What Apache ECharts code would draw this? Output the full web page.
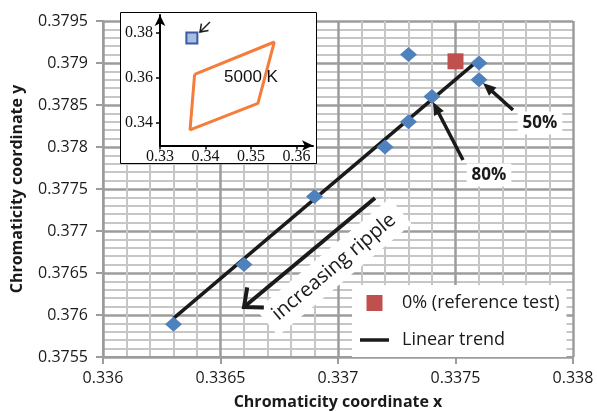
<!DOCTYPE html>
<html><head><meta charset="utf-8">
<script src="https://cdn.jsdelivr.net/npm/echarts@6/dist/echarts.min.js"></script>
<style>html,body{margin:0;padding:0;background:#fff}#c{width:597px;height:412px}</style>
</head><body><div id="c"></div>
<script>
// ---- data ----
const rippleX = [0.3363, 0.3366, 0.3369, 0.3372, 0.3373, 0.3374, 0.3373, 0.3376, 0.3376];
const rippleY = [0.37589, 0.3766, 0.37741, 0.3780, 0.3783, 0.3786, 0.37910, 0.3790, 0.3788];
const refX = [0.3375];
const refY = [0.37902];
const trendX = [0.3363, 0.3376];
const trendY = [0.37596, 0.37904];
const xTickLabels = ['0.336', '0.3365', '0.337', '0.3375', '0.338'];
const yTickLabels = ['0.3755', '0.376', '0.3765', '0.377', '0.3775', '0.378', '0.3785', '0.379', '0.3795'];
// inset: ANSI 5000 K quadrangle and the test point
const quadX = [0.3376, 0.3551, 0.3515, 0.3366, 0.3376];
const quadY = [0.3616, 0.3760, 0.3487, 0.3369, 0.3616];
const insetPtX = [0.3370];
const insetPtY = [0.3778];
const insetXTicks = [0.33, 0.34, 0.35, 0.36];
const insetXTickLabels = ['0.33', '0.34', '0.35', '0.36'];
const insetYTicks = [0.34, 0.36, 0.38];
const insetYTickLabels = ['0.34', '0.36', '0.38'];

const zip = (a, b) => a.map((v, i) => [v, b[i]]);
const pick = (ticks, labels) => v => { const i = ticks.findIndex(t => Math.abs(t - v) < 1e-9); return i >= 0 ? labels[i] : ''; };

const FONT = 'Open Sans';
const MAJOR = '#9c9c9c', MINOR = '#c6c6c6', INK = '#1a1a1a';

function arrowEls(x1, y1, x2, y2, w, L, W, filled, z) {
  const dx = x2 - x1, dy = y2 - y1, len = Math.hypot(dx, dy);
  const ux = dx / len, uy = dy / len, px = -uy, py = ux;
  const els = [];
  if (filled) {
    const bx = x2 - ux * L, by = y2 - uy * L;
    els.push({type: 'line', z, shape: {x1, y1, x2: bx + ux * 2, y2: by + uy * 2}, style: {stroke: INK, lineWidth: w}});
    els.push({type: 'polygon', z, shape: {points: [[x2, y2], [bx + px * W / 2, by + py * W / 2], [bx - px * W / 2, by - py * W / 2]]}, style: {fill: INK}});
  } else {
    els.push({type: 'line', z, shape: {x1, y1, x2, y2}, style: {stroke: INK, lineWidth: w}});
    const bx = x2 - ux * L, by = y2 - uy * L;
    els.push({type: 'polyline', z, shape: {points: [[bx + px * W / 2, by + py * W / 2], [x2, y2], [bx - px * W / 2, by - py * W / 2]]},
      style: {stroke: INK, lineWidth: w, fill: null, lineJoin: 'miter'}});
  }
  return els;
}

const chart = echarts.init(document.getElementById('c'), null, {renderer: 'canvas'});

const graphics = [];
// inset frame
graphics.push({type: 'rect', z: 10, shape: {x: 120.5, y: 12.5, width: 196, height: 151}, style: {fill: '#fff', stroke: '#000', lineWidth: 1}});
graphics.push({type: 'text', z: 22, x: 251, y: 77, style: {text: '5000 K', fontFamily: 'Liberation Sans', fontSize: 17, fill: '#111', align: 'center', verticalAlign: 'middle'}});
graphics.push(...arrowEls(210, 22, 200, 32, 1.5, 7, 10, false, 22));
// annotations
graphics.push(...arrowEls(513, 110, 483, 83, 3.5, 13, 11, true, 30));
graphics.push(...arrowEls(463, 160, 433, 102, 3.5, 13, 11, true, 30));
graphics.push({type: 'text', z: 29, x: 540, y: 123, style: {text: '50%', fontFamily: FONT, fontWeight: 'bold', fontSize: 17, fill: INK, align: 'center', verticalAlign: 'middle', backgroundColor: '#fff', padding: [3, 5]}});
graphics.push({type: 'text', z: 29, x: 489, y: 175, style: {text: '80%', fontFamily: FONT, fontWeight: 'bold', fontSize: 17, fill: INK, align: 'center', verticalAlign: 'middle', backgroundColor: '#fff', padding: [3, 5]}});
graphics.push({type: 'text', z: 29, x: 334, y: 267, rotation: 40 * Math.PI / 180, style: {text: 'increasing ripple', fontFamily: FONT, fontSize: 20, fill: INK, align: 'center', verticalAlign: 'middle', backgroundColor: '#fff', padding: [7, 10]}});
graphics.push(...arrowEls(375, 198, 244, 307, 4, 15, 26, false, 30));

chart.setOption({
  animation: false,
  backgroundColor: '#fff',
  grid: [
    {left: 103, right: 24, top: 21, bottom: 55, outerBoundsMode: 'none', containLabel: false},
    {left: 160, top: 15, width: 153, height: 130.5, outerBoundsMode: 'none', containLabel: false}
  ],
  xAxis: [{
    gridIndex: 0, type: 'value', min: 0.336, max: 0.338, interval: 0.0005,
    name: 'Chromaticity coordinate x', nameLocation: 'middle', nameGap: 37,
    nameTextStyle: {fontFamily: FONT, fontWeight: 'bold', fontSize: 16, color: INK},
    axisLine: {show: true, onZero: false, lineStyle: {color: MAJOR, width: 2}},
    axisTick: {show: true, length: 7, lineStyle: {color: MAJOR, width: 2}},
    axisLabel: {margin: 13, fontFamily: FONT, fontSize: 16, color: INK, formatter: (v, i) => xTickLabels[i]},
    splitLine: {show: true, lineStyle: {color: MAJOR, width: 2.5}},
    minorTick: {show: false, splitNumber: 5},
    minorSplitLine: {show: true, lineStyle: {color: MINOR, width: 2}}
  }, {
    gridIndex: 1, type: 'value', min: 0.33, max: 0.3636, z: 20,
    axisLine: {show: true, onZero: false, symbol: ['none', 'arrow'], symbolSize: [8, 11], lineStyle: {color: '#000', width: 2}},
    axisTick: {show: true, length: 4, customValues: insetXTicks, lineStyle: {color: '#000', width: 1.5}},
    axisLabel: {margin: 3, customValues: insetXTicks, fontFamily: 'Liberation Serif', fontSize: 16, color: '#111', formatter: pick(insetXTicks, insetXTickLabels)},
    splitLine: {show: false}
  }],
  yAxis: [{
    gridIndex: 0, type: 'value', min: 0.3755, max: 0.3795, interval: 0.0005,
    name: 'Chromaticity coordinate y', nameLocation: 'middle', nameGap: 78,
    nameTextStyle: {fontFamily: FONT, fontWeight: 'bold', fontSize: 16, color: INK},
    axisLine: {show: true, lineStyle: {color: MAJOR, width: 2}},
    axisTick: {show: true, length: 7, lineStyle: {color: MAJOR, width: 2}},
    axisLabel: {margin: 15, fontFamily: FONT, fontSize: 16, color: INK, formatter: (v, i) => yTickLabels[i]},
    splitLine: {show: true, lineStyle: {color: MAJOR, width: 2.5}},
    minorTick: {show: false, splitNumber: 5},
    minorSplitLine: {show: true, lineStyle: {color: MINOR, width: 2}}
  }, {
    gridIndex: 1, type: 'value', min: 0.33, max: 0.388, z: 20,
    axisLine: {show: true, onZero: false, symbol: ['none', 'arrow'], symbolSize: [8, 11], lineStyle: {color: '#000', width: 2}},
    axisTick: {show: true, length: 4, customValues: insetYTicks, lineStyle: {color: '#000', width: 1.5}},
    axisLabel: {margin: 7, customValues: insetYTicks, fontFamily: 'Liberation Serif', fontSize: 16, color: '#111', formatter: pick(insetYTicks, insetYTickLabels)},
    splitLine: {show: false}
  }],
  legend: {
    data: [{name: '0% (reference test)', icon: 'path://M0,0h16v16h-16z'}, {name: 'Linear trend', icon: 'path://M0,0h29v3.5h-29z'}],
    orient: 'vertical', left: 352, top: 285, padding: [9, 7, 8, 8],
    itemWidth: 29, itemHeight: 16, itemGap: 19, backgroundColor: '#fff', selectedMode: false, z: 5,
    textStyle: {fontFamily: FONT, fontSize: 18, color: INK, padding: [0, 0, 0, 8]}
  },
  graphic: {elements: graphics},
  series: [{
    name: 'Linear trend', type: 'line', xAxisIndex: 0, yAxisIndex: 0, data: zip(trendX, trendY),
    symbol: 'none', lineStyle: {color: INK, width: 3.5}, itemStyle: {color: INK}, z: 3
  }, {
    name: 'ripple', type: 'scatter', xAxisIndex: 0, yAxisIndex: 0, data: zip(rippleX, rippleY),
    symbol: 'diamond', symbolSize: [17, 15], itemStyle: {color: '#4f81bd', opacity: 1}, z: 4
  }, {
    name: '0% (reference test)', type: 'scatter', xAxisIndex: 0, yAxisIndex: 0, data: zip(refX, refY),
    symbol: 'rect', symbolSize: 16, itemStyle: {color: '#c0504d', opacity: 1}, z: 4
  }, {
    name: 'quad', type: 'line', xAxisIndex: 1, yAxisIndex: 1, data: zip(quadX, quadY),
    symbol: 'none', lineStyle: {color: '#f47d3b', width: 3}, z: 21
  }, {
    name: 'point', type: 'scatter', xAxisIndex: 1, yAxisIndex: 1, data: zip(insetPtX, insetPtY),
    symbol: 'rect', symbolSize: 11, itemStyle: {color: '#a9bfe0', borderColor: '#3b5aa9', borderWidth: 2, opacity: 1}, z: 21
  }]
});
</script>
</body></html>
